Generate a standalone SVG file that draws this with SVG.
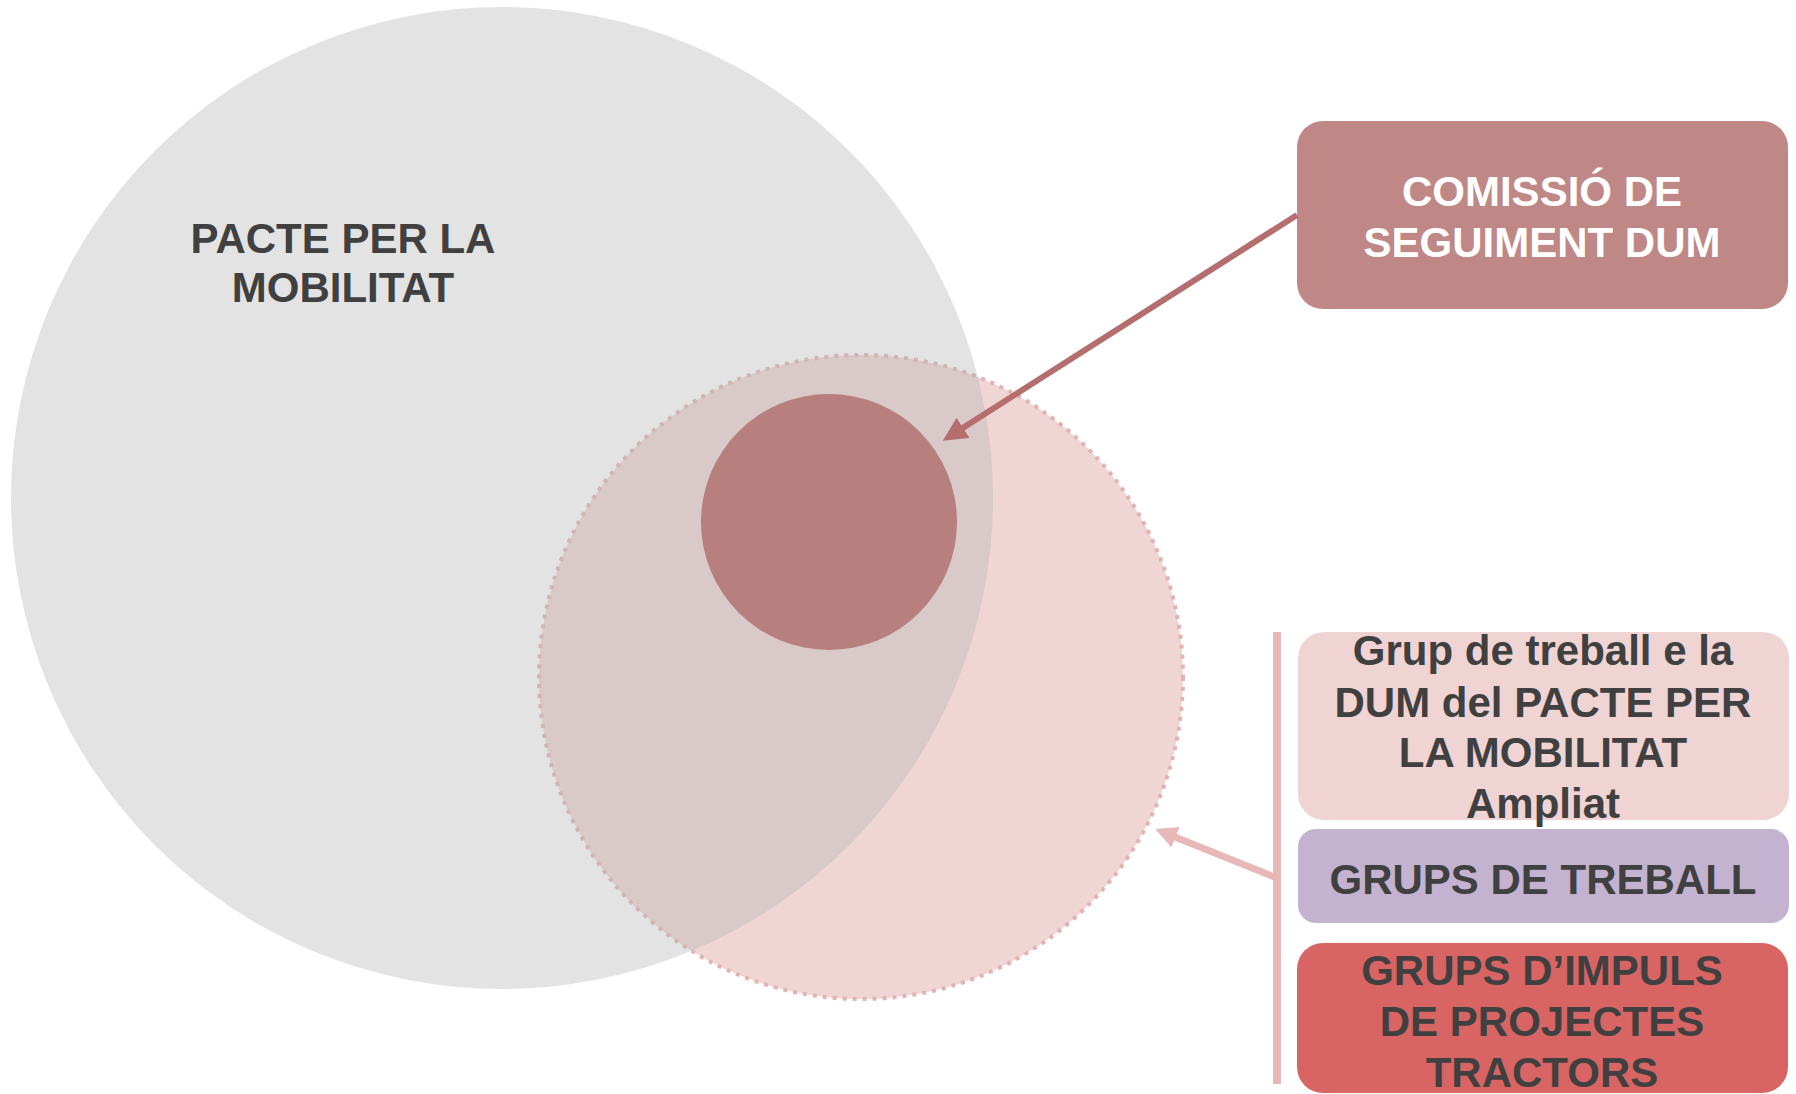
<svg xmlns="http://www.w3.org/2000/svg" width="1796" height="1094" viewBox="0 0 1796 1094">
<style>
  text { font-family: "Liberation Sans", Arial, sans-serif; font-weight: bold; text-anchor: middle; font-size: 42px; }
  .dark { fill: #404040; }
  .white { fill: #ffffff; }
</style>
<defs>
  <marker id="ah1" markerUnits="userSpaceOnUse" markerWidth="26" markerHeight="26" refX="6" refY="12" orient="auto">
    <path d="M0,0 L24,12 L0,24 Z" fill="#b56d6d"/>
  </marker>
  <marker id="ah2" markerUnits="userSpaceOnUse" markerWidth="24" markerHeight="24" refX="6" refY="11" orient="auto">
    <path d="M0,0 L22,11 L0,22 Z" fill="#e8b8b8"/>
  </marker>
</defs>
<rect width="1796" height="1094" fill="#ffffff"/>

<g id="pacte-ampliat">
  <circle cx="861" cy="677" r="322" fill="#f0d5d5" stroke="#e3b3b3" stroke-width="4" stroke-dasharray="4 6"/>
</g>
<g id="pacte">
  <circle cx="502" cy="498" r="491" fill="#b5b5b5" fill-opacity="0.38"/>
  <text class="dark" x="343" y="253">PACTE PER LA</text>
  <text class="dark" x="343" y="302">MOBILITAT</text>
</g>
<g id="comissio-circle">
  <circle cx="829" cy="522" r="128" fill="#b77f7d"/>
</g>

<g id="comissio">
  <rect x="1297" y="121" width="491" height="188" rx="26" fill="#bf8785"/>
  <text class="white" x="1542" y="206">COMISSIÓ DE</text>
  <text class="white" x="1542" y="257">SEGUIMENT DUM</text>
</g>

<g id="grup-dum">
  <rect x="1298" y="632" width="491" height="188" rx="26" fill="#f0d4d4"/>
  <text class="dark" x="1543" y="665">Grup de treball e la</text>
  <text class="dark" x="1543" y="717">DUM del PACTE PER</text>
  <text class="dark" x="1543" y="767">LA MOBILITAT</text>
  <text class="dark" x="1543" y="818">Ampliat</text>
</g>
<g id="grups-treball">
  <rect x="1298" y="829" width="491" height="94" rx="18" fill="#c3b3d1"/>
  <text class="dark" x="1543" y="894">GRUPS DE TREBALL</text>
</g>
<g id="grups-impuls">
  <rect x="1297" y="943" width="491" height="150" rx="26" fill="#d86464"/>
  <text class="dark" x="1542" y="985">GRUPS D’IMPULS</text>
  <text class="dark" x="1542" y="1036">DE PROJECTES</text>
  <text class="dark" x="1542" y="1087">TRACTORS</text>
</g>

<g id="connectors">
  <line x1="1297" y1="215" x2="958" y2="431" stroke="#b56d6d" stroke-width="6"/>
  <line x1="1297" y1="215" x2="958" y2="431" stroke="none" marker-end="url(#ah1)"/>
  <line x1="1277" y1="632" x2="1277" y2="1084" stroke="#e8b8b8" stroke-width="8"/>
  <line x1="1277" y1="878" x2="1170" y2="835" stroke="#e8b8b8" stroke-width="7" marker-end="url(#ah2)"/>
</g>
</svg>
